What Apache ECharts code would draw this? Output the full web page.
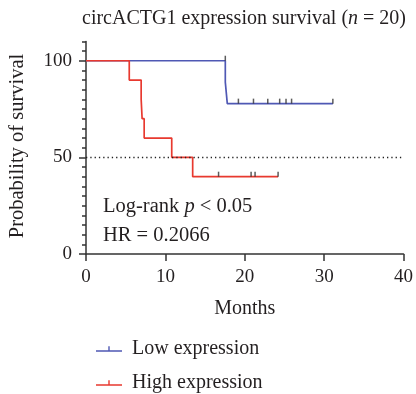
<!DOCTYPE html>
<html lang="en">
<head>
<meta charset="UTF-8">
<title>circACTG1 survival</title>
<script src="https://cdn.jsdelivr.net/npm/echarts@6/dist/echarts.min.js"></script>
<style>
  html, body { margin: 0; padding: 0; background: #fff; }
  #chart { width: 416px; height: 394px; }
</style>
</head>
<body>
<div id="chart"></div>
<script>
// Kaplan-Meier steps (months, % surviving)
var lowTimes = [0, 17.55, 17.8, 31.1];
var lowSurv = [100, 88.9, 77.8, 77.8];
var lowCensorTimes = [17.55, 19.2, 21.1, 22.9, 24.4, 25.2, 25.9, 31.1];
var lowCensorSurv = [100, 77.8, 77.8, 77.8, 77.8, 77.8, 77.8, 77.8];

var highTimes = [0, 5.45, 6.95, 7.07, 7.33, 10.8, 13.44, 24.2];
var highSurv = [100, 90, 80, 70, 60, 50, 40, 40];
var highCensorTimes = [16.7, 20.8, 21.3, 24.2];
var highCensorSurv = [40, 40, 40, 40];

var xTicks = [0, 10, 20, 30, 40];
var yLabelTicks = [0, 50, 100];

var FONT = '"Liberation Serif", "DejaVu Serif", serif';
var INK = '#231f20';
var BLUE = '#4f58b4';
var RED = '#e8392f';

function zip(a, b) {
    var out = [];
    for (var i = 0; i < a.length; i++) out.push([a[i], b[i]]);
    return out;
}

var chart = echarts.init(document.getElementById('chart'), null, { renderer: 'canvas' });

var legendIcon = 'path://M0,8 L26,8 L26,9.6 L0,9.6 Z M12.3,4 L13.7,4 L13.7,8 L12.3,8 Z';

var option = {
    animation: false,
    backgroundColor: '#fff',
    title: {
        text: '{a|circACTG1 expression survival (}{i|n}{a| = 20)}',
        left: 77,
        top: 4,
        textStyle: {
            fontWeight: 'normal',
            rich: {
                a: { fontFamily: FONT, fontSize: 20, color: INK, fontWeight: 'normal' },
                i: { fontFamily: FONT, fontSize: 20, color: INK, fontWeight: 'normal', fontStyle: 'italic' }
            }
        }
    },
    grid: { left: 86, right: 11.5, top: 41.4, bottom: 140 },
    legend: {
        orient: 'vertical',
        left: 96,
        top: 339,
        height: 55,
        padding: 0,
        itemWidth: 26,
        itemHeight: 10,
        itemGap: 14,
        icon: legendIcon,
        textStyle: { fontFamily: FONT, fontSize: 20, color: INK, padding: [0, 0, 0, 5] },
        data: ['Low expression', 'High expression']
    },
    xAxis: {
        type: 'value',
        min: 0,
        max: 40,
        interval: 10,
        name: 'Months',
        nameLocation: 'middle',
        nameGap: 45,
        nameTextStyle: { fontFamily: FONT, fontSize: 20, color: INK },
        axisLine: { show: true, lineStyle: { color: '#333', width: 1.5 } },
        axisTick: { show: true, length: 7, lineStyle: { color: '#333', width: 1.5 } },
        axisLabel: {
            fontFamily: FONT, fontSize: 19, color: INK, margin: 14,
            customValues: xTicks
        },
        splitLine: { show: false }
    },
    yAxis: [{
        type: 'value',
        min: 0,
        max: 110,
        interval: 5,
        axisLine: { show: true, lineStyle: { color: '#333', width: 1.5 } },
        axisTick: { show: true, length: 4, lineStyle: { color: '#333', width: 1.5 } },
        axisLabel: {
            fontFamily: FONT, fontSize: 19, color: INK, margin: 14,
            formatter: function (v) { return yLabelTicks.indexOf(v) >= 0 ? String(v) : ''; }
        },
        splitLine: { show: false }
    }, {
        type: 'value',
        position: 'left',
        min: 0,
        max: 110,
        interval: 5,
        axisLine: { show: false },
        axisTick: { show: true, length: 7, customValues: yLabelTicks, lineStyle: { color: '#333', width: 1.5 } },
        axisLabel: { show: false },
        splitLine: { show: false }
    }],
    graphic: [{
        type: 'text',
        x: 18,
        y: 146,
        rotation: Math.PI / 2,
        style: {
            text: 'Probability of survival',
            fontFamily: FONT, fontSize: 20.5, fill: INK,
            align: 'center', verticalAlign: 'middle'
        }
    }, {
        type: 'text',
        x: 103,
        y: 207,
        style: {
            text: '{a|Log-rank }{i|p}{a| < 0.05}',
            align: 'left', verticalAlign: 'middle',
            rich: {
                a: { fontFamily: FONT, fontSize: 20.5, fill: INK },
                i: { fontFamily: FONT, fontSize: 20.5, fill: INK, fontStyle: 'italic' }
            }
        }
    }, {
        type: 'text',
        x: 103,
        y: 236,
        style: {
            text: 'HR = 0.2066',
            fontFamily: FONT, fontSize: 20.5, fill: INK,
            align: 'left', verticalAlign: 'middle'
        }
    }],
    series: [{
        name: 'Low expression',
        type: 'line',
        step: 'end',
        showSymbol: false,
        color: BLUE,
        lineStyle: { color: BLUE, width: 1.7 },
        data: zip(lowTimes, lowSurv),
        z: 3,
        markLine: {
            silent: true,
            symbol: 'none',
            label: { show: false },
            lineStyle: { color: '#222', width: 1.3, type: [1.3, 3] },
            data: [{ yAxis: 50 }]
        }
    }, {
        name: 'High expression',
        type: 'line',
        step: 'end',
        showSymbol: false,
        color: RED,
        lineStyle: { color: RED, width: 1.7 },
        data: zip(highTimes, highSurv),
        z: 3
    }, {
        name: 'low-censor',
        type: 'scatter',
        symbol: 'rect',
        symbolSize: [1.5, 5],
        symbolOffset: [0, -2.5],
        itemStyle: { color: '#333' },
        data: zip(lowCensorTimes, lowCensorSurv),
        z: 4
    }, {
        name: 'high-censor',
        type: 'scatter',
        symbol: 'rect',
        symbolSize: [1.5, 5],
        symbolOffset: [0, -2.5],
        itemStyle: { color: '#333' },
        data: zip(highCensorTimes, highCensorSurv),
        z: 4
    }]
};

chart.setOption(option);
</script>
</body>
</html>
